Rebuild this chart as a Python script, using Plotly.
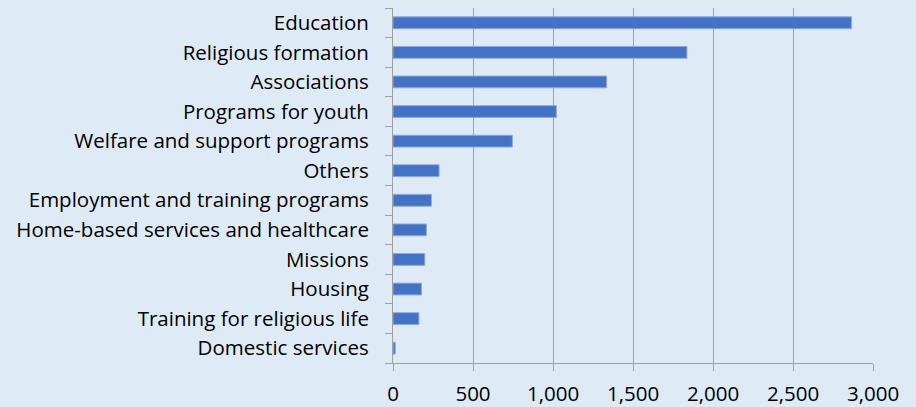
import plotly.graph_objects as go

categories = [
    "Education",
    "Religious formation",
    "Associations",
    "Programs for youth",
    "Welfare and support programs",
    "Others",
    "Employment and training programs",
    "Home-based services and healthcare",
    "Missions",
    "Housing",
    "Training for religious life",
    "Domestic services",
]
values = [2866, 1837, 1335, 1021, 746, 288, 240, 209, 199, 178, 162, 14]
x_ticks = [0, 500, 1000, 1500, 2000, 2500, 3000]
x_tick_labels = ["0", "500", "1,000", "1,500", "2,000", "2,500", "3,000"]

BG = "#DEEAF6"
FONT = "Open Sans"
FSIZE = 20.5

fig = go.Figure(
    go.Bar(
        x=values,
        y=categories,
        orientation="h",
        width=0.4,
        marker=dict(color="#4472C4", line=dict(color="#8FAADC", width=1)),
    )
)

fig.update_layout(
    width=916,
    height=407,
    margin=dict(l=393, r=43, t=8, b=44),
    paper_bgcolor=BG,
    plot_bgcolor=BG,
    showlegend=False,
    font=dict(family=FONT, size=FSIZE, color="#000000"),
    xaxis=dict(
        range=[0, 3000],
        tickvals=x_ticks,
        ticktext=x_tick_labels,
        showgrid=True,
        gridcolor="#A0A0A0",
        gridwidth=1,
        zeroline=False,
        showline=True,
        linecolor="#A0A0A0",
        linewidth=1,
        ticks="outside",
        ticklen=7,
        tickcolor="#A0A0A0",
        ticklabelstandoff=5,
        tickfont=dict(family=FONT, size=FSIZE),
        automargin=False,
        fixedrange=True,
    ),
    yaxis=dict(
        categoryorder="array",
        categoryarray=categories[::-1],
        showgrid=False,
        zeroline=False,
        showline=True,
        linecolor="#A0A0A0",
        linewidth=1,
        ticks="outside",
        ticklen=7,
        tickcolor="#A0A0A0",
        tickson="boundaries",
        ticklabelstandoff=19,
        tickfont=dict(family=FONT, size=FSIZE),
        automargin=False,
        fixedrange=True,
    ),
)

fig.write_html(
    "out.html",
    config={"displayModeBar": False},
    post_script="document.body.style.margin='0px';document.body.style.background='" + BG + "';",
)
